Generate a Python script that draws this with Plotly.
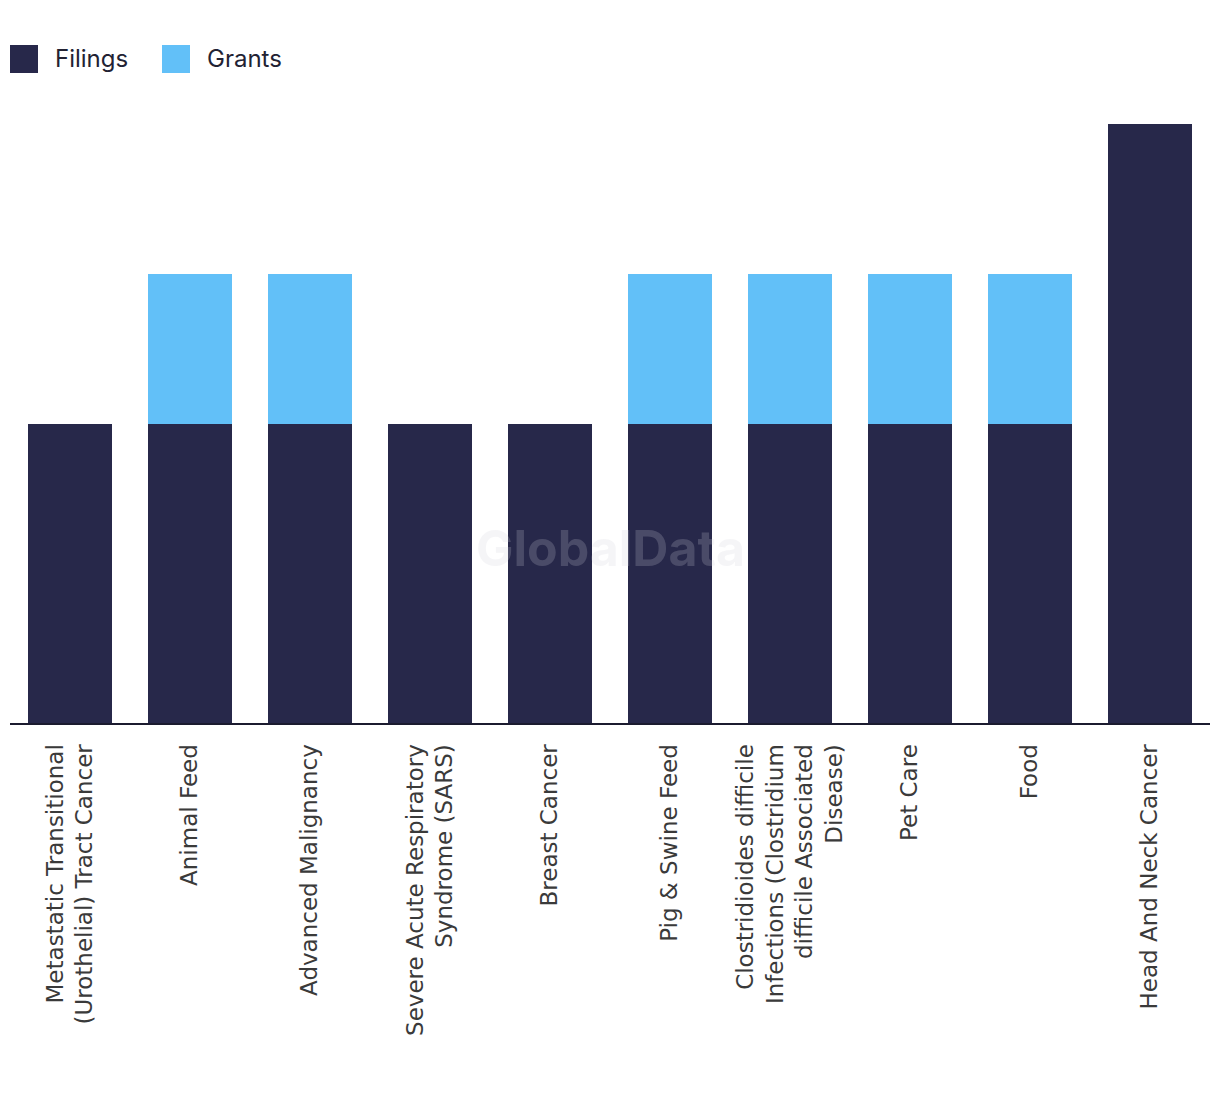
import plotly.graph_objects as go

categories = [
    "Metastatic Transitional<br>(Urothelial) Tract Cancer",
    "Animal Feed",
    "Advanced Malignancy",
    "Severe Acute Respiratory<br>Syndrome (SARS)",
    "Breast Cancer",
    "Pig & Swine Feed",
    "Clostridioides difficile<br>Infections (Clostridium<br>difficile Associated<br>Disease)",
    "Pet Care",
    "Food",
    "Head And Neck Cancer",
]
filings = [2, 2, 2, 2, 2, 2, 2, 2, 2, 4]
grants = [0, 1, 1, 0, 0, 1, 1, 1, 1, 0]

FILINGS_COLOR = "#27284A"
GRANTS_COLOR = "#62C0F8"

fig = go.Figure()
fig.add_trace(go.Bar(x=categories, y=filings, name="Filings", marker_color=FILINGS_COLOR,
                     marker_line_width=0, showlegend=False))
fig.add_trace(go.Bar(x=categories, y=grants, name="Grants", marker_color=GRANTS_COLOR,
                     marker_line_width=0, showlegend=False))

PH = 599.0  # plot height in px (for paper-coordinate placement)
PW = 1200.0
fig.update_layout(
    barmode="stack",
    bargap=0.3,
    width=1220,
    height=1094,
    margin=dict(l=2, r=18, t=116, b=379),
    plot_bgcolor="white",
    paper_bgcolor="white",
    xaxis=dict(
        tickangle=-90,
        tickfont=dict(family="DejaVu Sans, sans-serif", size=23, color="#3a3a3a"),
        showline=True, linecolor="#1b1b2f", linewidth=2,
        ticks="outside", ticklen=10, tickcolor="rgba(0,0,0,0)",
        showgrid=False,
    ),
    yaxis=dict(range=[0, 4], visible=False, showgrid=False, zeroline=False),
    shapes=[
        dict(type="rect", xref="paper", yref="paper",
             x0=0, x1=28 / PW, y0=(723 - 73) / PH, y1=(723 - 45) / PH,
             fillcolor=FILINGS_COLOR, line_width=0),
        dict(type="rect", xref="paper", yref="paper",
             x0=152 / PW, x1=180 / PW, y0=(723 - 73) / PH, y1=(723 - 45) / PH,
             fillcolor=GRANTS_COLOR, line_width=0),
    ],
    annotations=[
        dict(text="Filings", xref="paper", yref="paper", x=43 / PW, y=(723 - 58) / PH,
             xanchor="left", yanchor="middle", showarrow=False,
             font=dict(family="Inter, Noto Sans, sans-serif", size=24, color="#222233")),
        dict(text="Grants", xref="paper", yref="paper", x=195 / PW, y=(723 - 58) / PH,
             xanchor="left", yanchor="middle", showarrow=False,
             font=dict(family="Inter, Noto Sans, sans-serif", size=24, color="#222233")),
        dict(text="<b>GlobalData</b>", xref="paper", yref="paper", x=0.5, y=(723 - 548) / PH,
             xanchor="center", yanchor="middle", showarrow=False,
             font=dict(family="Inter, Noto Sans, sans-serif", size=50, color="rgba(208,208,215,0.21)")),
    ],
)

fig.write_html("out.html")
